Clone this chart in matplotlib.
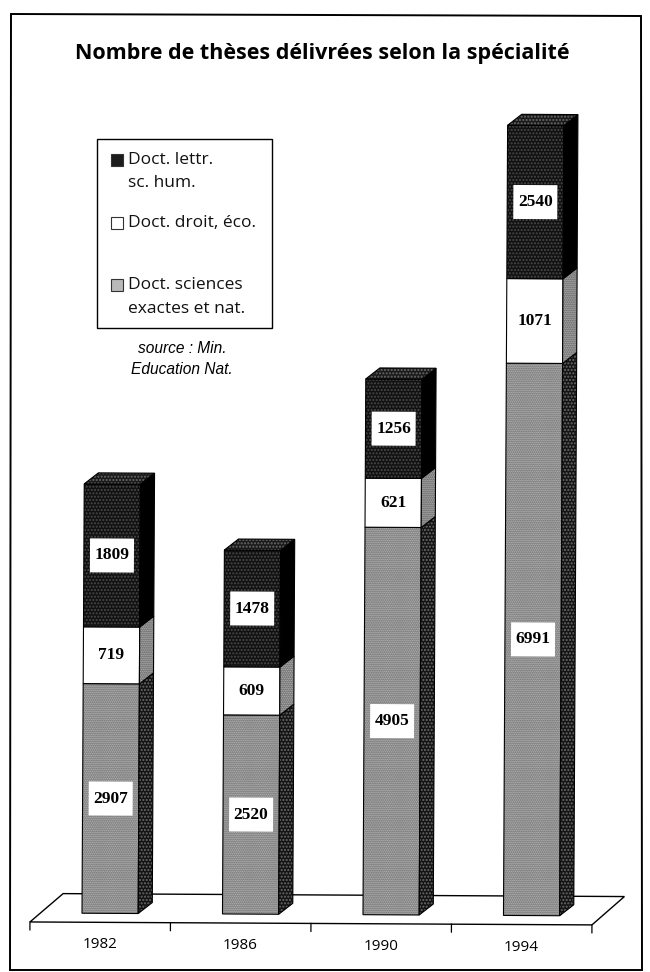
import matplotlib
matplotlib.use("Agg")
import matplotlib.pyplot as plt
from matplotlib.patches import Polygon, Rectangle
from matplotlib.transforms import Affine2D

years = ["1982", "1986", "1990", "1994"]
sciences = [2907, 2520, 4905, 6991]
droit = [719, 609, 621, 1071]
lettres = [1809, 1478, 1256, 2540]
# the printed 1994 block is shorter than its label says, so height and label differ
lettres_drawn = [1809, 1478, 1256, 1940]

W, H = 650, 972
BASE_PX = 914.5
PX_PER_UNIT = 0.079
PX_PER_CAT = 140.5
SERIF = "Liberation Serif"
SANS = "Open Sans"

fig = plt.figure(figsize=(W / 100, H / 100), dpi=100, facecolor="white")
ax = fig.add_axes([30 / W, 1 - BASE_PX / H, 4 * PX_PER_CAT / W, BASE_PX / H])
ax.set_xlim(0, 4)
ax.set_ylim(0, BASE_PX / PX_PER_UNIT)
ax.axis("off")

# the page was scanned slightly crooked
tilt = ax.transData + Affine2D().rotate_deg_around(325, H - BASE_PX, -0.3)
page = Affine2D().scale(1 / W, -1 / H).translate(0, 1) + fig.transFigure


def face(points, color, speck=None, hatch="......", edge="black"):
    if speck:
        ax.add_patch(Polygon(points, closed=True, facecolor=color, edgecolor=speck, hatch=hatch,
                             lw=0, transform=tilt, clip_on=False))
        color = "none"
    ax.add_patch(Polygon(points, closed=True, facecolor=color, edgecolor=edge, lw=0.8,
                         transform=tilt, clip_on=False))


def block(x, y0, y1, front, side, top=None):
    dx, dy = 0.1, 140
    x0, x1 = x - 0.2, x + 0.2
    face([(x0, y0), (x1, y0), (x1, y1), (x0, y1)], *front)
    face([(x1, y0), (x1 + dx, y0 + dy), (x1 + dx, y1 + dy), (x1, y1)], *side)
    if top:
        face([(x0, y1), (x1, y1), (x1 + dx, y1 + dy), (x0 + dx, y1 + dy)], *top)


def value_label(x, y, value):
    bw, bh = 44 / PX_PER_CAT, 34 / PX_PER_UNIT
    ax.add_patch(Rectangle((x - bw / 2, y - bh / 2), bw, bh, facecolor="white", edgecolor="none",
                           transform=tilt, clip_on=False, zorder=3))
    ax.text(x, y, str(value), family=SERIF, weight="bold", fontsize=12.5, ha="center", va="center",
            transform=tilt, zorder=4)


# floor of the chart
ax.add_patch(Polygon([(0, -114), (4, -114), (4.23, 247), (0.235, 247)], closed=True, facecolor="white",
                     edgecolor="black", lw=1, transform=tilt, clip_on=False))
for i in range(5):
    ax.plot([i, i], [-114, -214], color="black", lw=0.9, transform=tilt, clip_on=False)

GRAY = ("#c2c2c2", "#5a5a5a", "........")
DARK = ("#111111", "#4a4a4a", ".....")
WHITE = ("white",)

for i, year in enumerate(years):
    x = i + 0.5 + 0.07
    a = sciences[i]
    b = a + droit[i]
    c = b + lettres_drawn[i]
    block(x, 0, a, GRAY, ("#141414", "#6a6a6a", "....."))
    block(x, a, b, WHITE, ("#c4c4c4", "#444444", "........"))
    block(x, b, c, DARK, ("black",), top=("#1a1a1a", "#6a6a6a", "....."))
    value_label(x, a / 2, sciences[i])
    value_label(x, (a + b) / 2, droit[i])
    value_label(x, (b + c) / 2, lettres[i])
    ax.text(i + 0.5, -400, year, family=SANS, fontsize=11, ha="center", va="center", transform=tilt)

# page frame and title
fig.add_artist(Polygon([(11, 14), (641, 16), (642, 970), (10, 970)], closed=True, fill=False,
                       edgecolor="black", lw=1.4, transform=page))
fig.text(322, 53, "Nombre de thèses délivrées selon la spécialité", family=SANS, weight="bold",
         fontsize=15.5, ha="center", va="center", transform=page)

# legend box
fig.add_artist(Rectangle((97, 139), 175, 189, facecolor="white", edgecolor="black", lw=1, transform=page))
legend_rows = [("Doct. lettr.", 160, "#1c1c1c"), ("sc. hum.", 183, None),
               ("Doct. droit, éco.", 223, "white"), ("Doct. sciences", 285, "#b9b9b9"),
               ("exactes et nat.", 309, None)]
for label, y, swatch in legend_rows:
    fig.text(128, y, label, family=SANS, fontsize=12.5, ha="left", va="center", color="#111111", transform=page)
    if swatch:
        fig.add_artist(Rectangle((111, y - 6), 12, 12, facecolor=swatch, edgecolor="#333333", lw=0.8,
                                 transform=page))

for y, line in [(348, "source : Min."), (369, "Education Nat.")]:
    fig.text(182, y, line, family="Liberation Sans", style="italic", fontsize=11.2, ha="center", va="center",
             transform=page)

plt.savefig("out.png", dpi=100)
